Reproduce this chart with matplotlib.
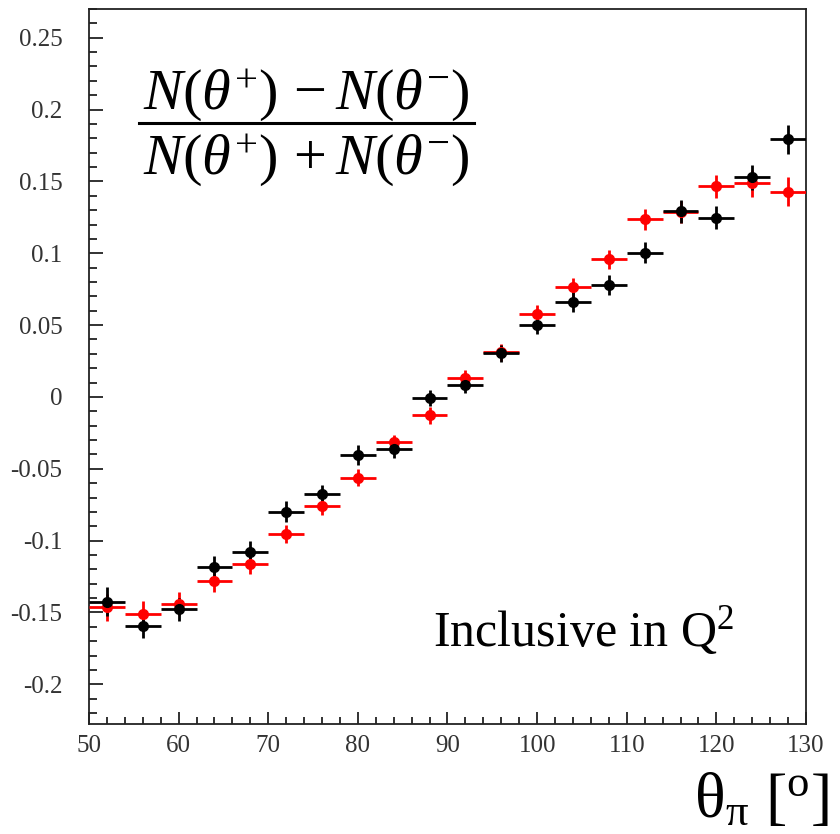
import matplotlib
matplotlib.use("Agg")
import matplotlib.pyplot as plt
from matplotlib.ticker import MultipleLocator, FixedLocator
from matplotlib.lines import Line2D
import numpy as np

plt.rcParams['font.family'] = ['Liberation Serif', 'DejaVu Serif']
plt.rcParams['mathtext.fontset'] = 'custom'
plt.rcParams['mathtext.rm'] = 'Liberation Serif'
plt.rcParams['mathtext.it'] = 'Liberation Serif:italic'
plt.rcParams['mathtext.bf'] = 'Liberation Serif:bold'

# ---- data ----
theta = [52, 56, 60, 64, 68, 72, 76, 80, 84, 88, 92, 96, 100, 104, 108, 112, 116, 120, 124, 128]
bin_half = 2.0
black_y = [-0.1425, -0.1594, -0.1476, -0.1186, -0.1077, -0.0799, -0.0678, -0.0402, -0.0363, -0.0008,
           0.0084, 0.0303, 0.0500, 0.0663, 0.0777, 0.1004, 0.1294, 0.1247, 0.1528, 0.1793]
black_err = [0.0100, 0.0085, 0.0080, 0.0080, 0.0075, 0.0073, 0.0064, 0.0070, 0.0060, 0.0058,
             0.0055, 0.0058, 0.0060, 0.0072, 0.0070, 0.0075, 0.0080, 0.0081, 0.0085, 0.0099]
red_y = [-0.1464, -0.1510, -0.1440, -0.1280, -0.1163, -0.0954, -0.0759, -0.0562, -0.0316, -0.0128,
         0.0134, 0.0310, 0.0580, 0.0763, 0.0958, 0.1236, 0.1289, 0.1466, 0.1487, 0.1428]
red_err = [0.0093, 0.0087, 0.0080, 0.0079, 0.0072, 0.0064, 0.0062, 0.0060, 0.0052, 0.0060,
           0.0052, 0.0058, 0.0060, 0.0065, 0.0066, 0.0072, 0.0078, 0.0082, 0.0095, 0.0100]

xlim = (50, 130)
ylim = (-0.2276, 0.270)
xticks = [50, 60, 70, 80, 90, 100, 110, 120, 130]
yticks = [-0.2, -0.15, -0.1, -0.05, 0, 0.05, 0.1, 0.15, 0.2, 0.25]
ytick_labels = ["-0.2", "-0.15", "-0.1", "-0.05", "0", "0.05", "0.1", "0.15", "0.2", "0.25"]

W, H = 840, 834
fig = plt.figure(figsize=(W / 100, H / 100), dpi=100)
L, R, T, B = 89, 806, 9, 724
ax = fig.add_axes([L / W, 1 - B / H, (R - L) / W, (B - T) / H])

for ys, es, col in [(red_y, red_err, 'red'), (black_y, black_err, 'black')]:
    ax.errorbar(theta, ys, xerr=bin_half, yerr=es, fmt='o', color=col, ms=7,
                elinewidth=2.0, capsize=0, mec=col, mfc=col, zorder=3)

ax.set_xlim(*xlim)
ax.set_ylim(*ylim)
ax.xaxis.set_major_locator(FixedLocator(xticks))
ax.xaxis.set_minor_locator(MultipleLocator(2))
ax.yaxis.set_major_locator(FixedLocator(yticks))
ax.set_yticklabels(ytick_labels)
ax.yaxis.set_minor_locator(MultipleLocator(0.01))

ax.tick_params(axis='both', which='both', direction='in', top=False, right=False,
               labelsize=18, labelcolor='#333333', color='#222222', width=1.3)
ax.tick_params(axis='y', which='major', length=10, pad=19)
ax.tick_params(axis='y', which='minor', length=6)
ax.tick_params(axis='x', which='major', length=9, pad=8)
ax.tick_params(axis='x', which='minor', length=5)
for s in ax.spines.values():
    s.set_linewidth(1.3)
    s.set_color('#222222')

# formula (fraction)
cx = 306 / W
fig.text(cx, 1 - 109 / H, r"$N(\theta^{+})\,-N(\theta^{-})$", ha='center', va='baseline', fontsize=42)
fig.text(cx, 1 - 174 / H, r"$N(\theta^{+})\,+N(\theta^{-})$", ha='center', va='baseline', fontsize=42)
fig.add_artist(Line2D([139 / W, 474 / W], [1 - 122.7 / H, 1 - 122.7 / H], color='black', lw=2.2,
                      transform=fig.transFigure))

# annotation
fig.text(433 / W, 1 - 646 / H, r"Inclusive in Q$^{\mathrm{2}}$", ha='left', va='baseline', fontsize=36)

# x-axis label
fig.text(829 / W, 1 - 817 / H, r"$\mathrm{\theta}_{\mathrm{\pi}}$ [$^{\mathrm{o}}$]", ha='right', va='baseline', fontsize=46)

fig.savefig("out.png", dpi=100)
